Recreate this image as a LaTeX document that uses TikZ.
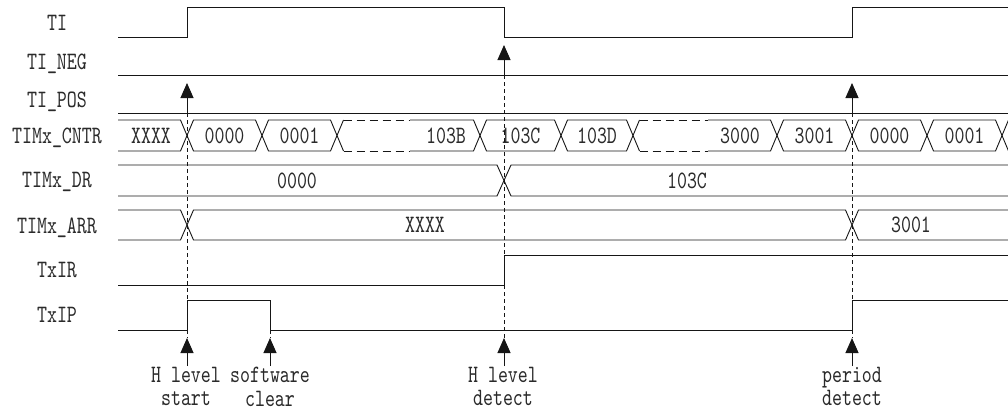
\documentclass[tikz,border=0pt]{standalone}
\usepackage{fontspec}
\usepackage{tikz}
\usetikzlibrary{arrows.meta}
\newfontfamily\sigfont[FakeStretch=0.76]{lmmono10-regular.otf}
\definecolor{ink}{HTML}{161616}
\definecolor{txt}{HTML}{2A2A2A}
% closed counter cells (from one transition to the next) and their values
\def\cntrcells{187/262/0000,262/337/0001,480/561/103C,561/633/103D,%
               777/852/3001,852/927/0000,927/1002/0001}

\begin{document}
\begin{tikzpicture}[x=1pt, y=-1pt,
  font=\sigfont\fontsize{25}{23.5}\selectfont, line join=miter,
  sig/.style={ink, line width=1pt},
  bus/.style={ink, line width=0.9pt},
  gapline/.style={ink, line width=0.9pt, dash pattern=on 8pt off 5pt},
  guide/.style={ink, line width=0.9pt, dash pattern=on 4pt off 3pt},
  evt/.style={-{Triangle[length=15pt,width=13pt]}, ink, line width=1pt},
  lbl/.style={text=txt, inner sep=0pt, text height=15pt, text depth=0pt},
  val/.style={text=txt, inner sep=0pt, text height=15pt, text depth=0pt},
  note/.style={text=txt, align=center, anchor=north, inner sep=1pt}]

\useasboundingbox (0,0) rectangle (1008,412);
\clip (0,0) rectangle (1008,412);

% ================================================================ signal names
\node[lbl] (lti)   at (57,23)  {TI};
\node[lbl] (lneg)  at (57,62)  {TI\_NEG};
\node[lbl] (lpos)  at (57,100) {TI\_POS};
\node[lbl] (lcntr) at (57,136) {TIMx\_CNTR};
\node[lbl] (ldr)   at (57,180) {TIMx\_DR};
\node[lbl] (larr)  at (57,226) {TIMx\_ARR};
\node[lbl] (lir)   at (57,270) {TxIR};
\node[lbl] (lip)   at (57,315) {TxIP};

% ================================================================ single-bit lines
\draw[sig] (118,38) -- (187,38) -- (187,8) -- (504,8) -- (504,38)
           -- (852,38) -- (852,8) -- (1008,8);
\draw[sig] (118,75) -- (1008,75);
\draw[sig] (118,113) -- (1008,113);
\draw[sig] (118,285) -- (504,285) -- (504,255) -- (1008,255);
\draw[sig] (118,330) -- (187,330) -- (187,300) -- (270,300) -- (270,330)
           -- (852,330) -- (852,300) -- (1008,300);

% ================================================================ TIMx_CNTR
\draw[bus] (118,120) -- (180.5,120) -- (187,135.5) -- (180.5,151) -- (118,151);
\node[val] (c0) at (151,135.5) {XXXX};
\foreach \a/\b/\v [count=\i] in \cntrcells {
  \draw[bus] (\a,135.5) -- (\a+6.5,120) -- (\b-6.5,120) -- (\b,135.5)
             -- (\b-6.5,151) -- (\a+6.5,151) -- cycle;
  \node[val] (c\i) at ({(\a+\b)/2},135.5) {\v};
}
% skipped counts
\draw[bus] (343.5,120) -- (337,135.5) -- (343.5,151);
\draw[gapline] (343.5,120) -- (410,120) (343.5,151) -- (410,151);
\draw[bus] (410,120) -- (473.5,120) -- (480,135.5) -- (473.5,151) -- (410,151);
\node[val] (cb) at (446,135.5) {103B};
\draw[bus] (639.5,120) -- (633,135.5) -- (639.5,151);
\draw[gapline] (639.5,120) -- (708,120) (639.5,151) -- (708,151);
\draw[bus] (708,120) -- (770.5,120) -- (777,135.5) -- (770.5,151) -- (708,151);
\node[val] (cc) at (740,135.5) {3000};
\draw[bus] (1002,135.5) -- (1008.5,120) -- (1020,120)
           (1002,135.5) -- (1008.5,151) -- (1020,151);

% ================================================================ TIMx_DR
\draw[bus] (118,165) -- (497,165) -- (504,180.5) -- (497,196) -- (118,196);
\draw[bus] (1020,165) -- (511,165) -- (504,180.5) -- (511,196) -- (1020,196);
\node[val] (d0) at (297,180.5) {0000};
\node[val] (d1) at (687,180.5) {103C};

% ================================================================ TIMx_ARR
\draw[bus] (118,210) -- (180.5,210) -- (187,225) -- (180.5,240) -- (118,240);
\draw[bus] (187,225) -- (193.5,210) -- (845.5,210) -- (852,225)
           -- (845.5,240) -- (193.5,240) -- cycle;
\draw[bus] (1020,210) -- (858.5,210) -- (852,225) -- (858.5,240) -- (1020,240);
\node[val] (a0) at (425,225) {XXXX};
\node[val] (a1) at (911,225) {3001};

% ================================================================ events
\coordinate (tstart)  at (187,83);
\coordinate (tdetect) at (504,45);
\coordinate (tperiod) at (852,83);
\coordinate (bstart)  at (187,338);
\coordinate (bclear)  at (270,338);
\coordinate (bdetect) at (504,338);
\coordinate (bperiod) at (852,338);

\draw[guide] (187,113) -- (187,300) (187,330) -- (bstart);
\draw[guide] (270,330) -- (bclear);
\draw[guide] (504,75) -- (504,255) (504,285) -- (bdetect);
\draw[guide] (852,113) -- (852,300) (852,330) -- (bperiod);

\draw[evt] (187,113) -- (tstart);
\draw[evt] (504,75) -- (tdetect);
\draw[evt] (852,113) -- (tperiod);

\node[note] (nstart)  at (186,366) {H level\\start};
\node[note] (nclear)  at (270,366) {software\\clear};
\node[note] (ndetect) at (503,366) {H level\\detect};
\node[note] (nperiod) at (852,366) {period\\detect};

\draw[evt] (bstart |- nstart.north) -- (bstart);
\draw[evt] (bclear |- nclear.north) -- (bclear);
\draw[evt] (bdetect |- ndetect.north) -- (bdetect);
\draw[evt] (bperiod |- nperiod.north) -- (bperiod);

\end{tikzpicture}
\end{document}
